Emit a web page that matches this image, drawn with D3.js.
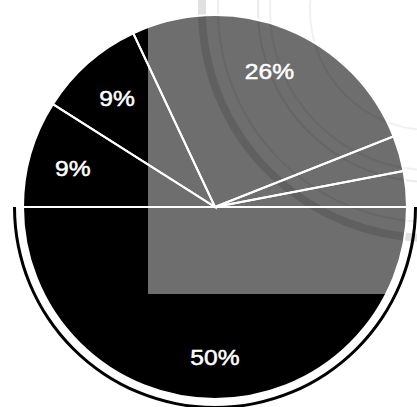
<!DOCTYPE html>
<html>
<head>
<meta charset="utf-8">
<script src="https://cdn.jsdelivr.net/npm/d3@7"></script>
<style>
  html, body { margin: 0; padding: 0; background: #fff; }
  svg { display: block; }
</style>
</head>
<body>
<svg id="chart" width="417" height="407"></svg>
<script>
// Data (slices go counter-clockwise from 3 o'clock)
const categories = ["A", "B", "C", "D", "E", "F"];
const values = [3, 3, 26, 9, 9, 50];
const labels = ["", "", "26%", "9%", "9%", "50%"];

const W = 417, H = 407;
const cx = 215, cy = 207, R = 192;

const svg = d3.select("#chart");

const g = svg.append("g").attr("transform", `translate(${cx},${cy})`);

const pie = d3.pie().sort(null).value(d => d)
  .startAngle(Math.PI / 2).endAngle(Math.PI / 2 - 2 * Math.PI);
const arcs = pie(values);
const arc = d3.arc().innerRadius(0).outerRadius(R);

// shadow ring around bottom half
const ringArc = d3.arc().innerRadius(199).outerRadius(202)
  .startAngle(Math.PI / 2).endAngle(3 * Math.PI / 2);
g.append("path").attr("d", ringArc()).attr("fill", "#000");

// slices
g.selectAll("path.slice").data(arcs).enter().append("path")
  .attr("class", "slice")
  .attr("d", arc)
  .attr("fill", "#000");

// gray scan overlay clipped to pie
svg.append("clipPath").attr("id", "pieClip")
  .append("circle").attr("cx", cx).attr("cy", cy).attr("r", R);
svg.append("rect")
  .attr("x", 148).attr("y", 0).attr("width", W - 148).attr("height", 294)
  .attr("fill", "#6e6e6e")
  .attr("clip-path", "url(#pieClip)");

// faint watermark seal (top right)
const wmRings = [
  {r: 228, w: 8, o: 0.12},
  {r: 212, w: 2, o: 0.07},
  {r: 172, w: 2, o: 0.08},
  {r: 160, w: 2, o: 0.06},
  {r: 120, w: 2, o: 0.06}
];
const wm = svg.append("g").attr("class", "watermark");
wmRings.forEach(d => {
  wm.append("circle").attr("cx", 430).attr("cy", 10).attr("r", d.r)
    .attr("fill", "none").attr("stroke", "#000")
    .attr("stroke-opacity", d.o).attr("stroke-width", d.w);
});

// separators
const g2 = svg.append("g").attr("transform", `translate(${cx},${cy})`);
g2.selectAll("path.sep").data(arcs).enter().append("path")
  .attr("class", "sep")
  .attr("d", arc)
  .attr("fill", "none")
  .attr("stroke", "#fff")
  .attr("stroke-width", 2)
  .attr("stroke-linejoin", "miter");

// labels
const labelArc = d3.arc().innerRadius(148).outerRadius(148);
g2.selectAll("text.lbl").data(arcs).enter().append("text")
  .attr("class", "lbl")
  .attr("transform", d => {
    const c = labelArc.centroid(d);
    return `translate(${c[0]},${c[1] + 2}) scale(1.12,1)`;
  })
  .attr("text-anchor", "middle")
  .attr("dy", "0.36em")
  .attr("fill", "#fff")
  .attr("stroke", "#fff")
  .attr("stroke-width", 0.5)
  .attr("font-family", "Liberation Sans, Arial, sans-serif")
  .attr("font-size", 22)
  .text((d, i) => labels[i]);
</script>
</body>
</html>
